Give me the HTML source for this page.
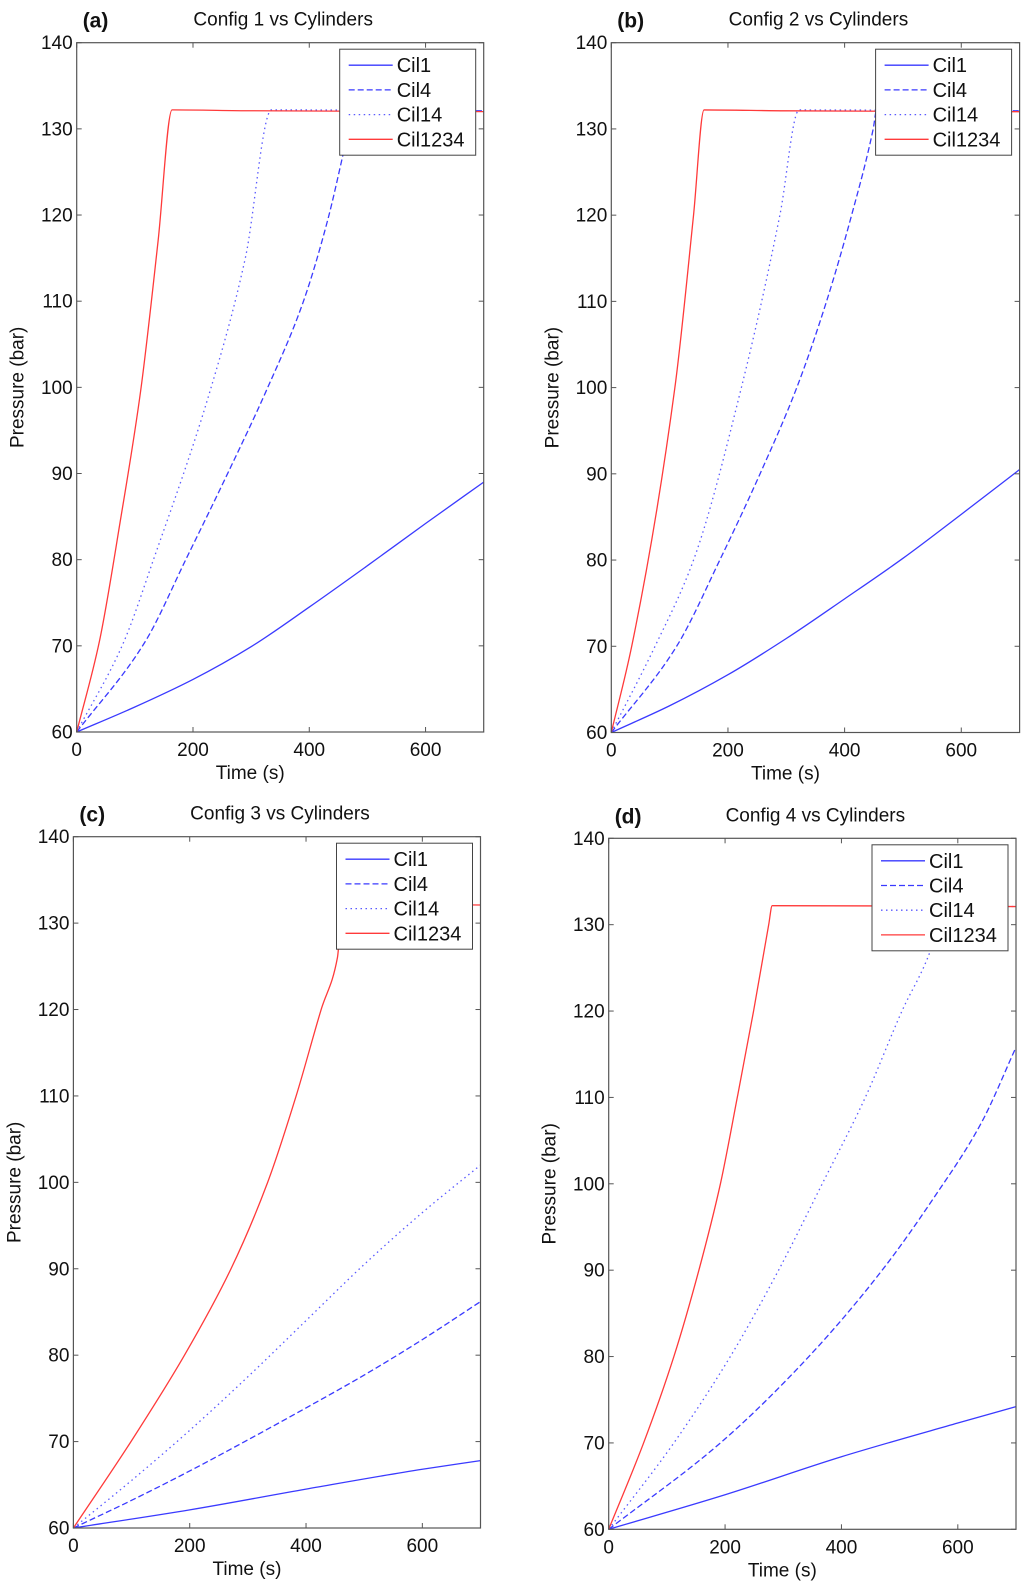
<!DOCTYPE html>
<html><head><meta charset="utf-8"><style>
html,body{margin:0;padding:0;background:#fff;}
svg{display:block;font-family:"Liberation Sans",Arial,sans-serif;}
</style></head>
<body>
<svg id="fig" width="1024" height="1590" viewBox="0 0 1024 1590" xmlns="http://www.w3.org/2000/svg"></svg>
<script>
// ---- data ----
const yTicks = [60,70,80,90,100,110,120,130,140];
const xTicks = [0,200,400,600];
const seriesNames = ["Cil1","Cil4","Cil14","Cil1234"];
const panelTitles = ["Config 1 vs Cylinders","Config 2 vs Cylinders","Config 3 vs Cylinders","Config 4 vs Cylinders"];
const panelLetters = ["(a)","(b)","(c)","(d)"];

// Panel a
const aCil1T = [0,100,200,300,400,500,600,700];
const aCil1V = [60,62.9,66.1,69.9,74.5,79.3,84.2,89.0];
const aCil4T = [0,117,189,261,326,389,432,458,475,700];
const aCil4V = [60,70.4,80.2,90.2,99.6,109.8,119.5,127.0,132.2,132.1];
const aCil14T = [0,80,132,229,290,335,700];
const aCil14V = [60,70.3,80.0,99.5,115,132.2,132.1];
const aCil1234T = [0,39,75,110,140,164,300,700];
const aCil1234V = [60,70.5,84.5,99.6,117,132.2,132.1,132.0];
// Panel b
const bCil1T = [0,100,200,300,400,500,600,700];
const bCil1V = [60,63.1,66.7,70.9,75.5,80.2,85.3,90.5];
const bCil4T = [0,112,186,255,318,369,412,449,455,700];
const bCil4V = [60,70,80,90,100,110,120,130,132.2,132.1];
const bCil14T = [0,75,141,223,289,322,700];
const bCil14V = [60,70,80,100,120,132.2,132.1];
const bCil1234T = [0,35,109,141,159,300,700];
const bCil1234V = [60,70,100,120,132.2,132.1,132.0];
// Panel c
const cCil1T = [0,200,400,600,700];
const cCil1V = [60,62.1,64.5,66.8,67.8];
const cCil4T = [0,100,200,300,400,500,600,700];
const cCil4V = [60,63.2,66.6,70.2,73.9,77.7,81.8,86.2];
const cCil14T = [0,100,200,300,400,500,600,700];
const cCil14V = [60,65.5,71.3,77.5,84,90.5,96.5,102];
const cCil1234T = [0,99,191,271,334,383,426,454,463,700];
const cCil1234V = [60,70,80,90,100,110,120,126,132.2,132.1];
// Panel d
const dCil1T = [0,200,400,600,700];
const dCil1V = [60,64,68.4,72.3,74.2];
const dCil4T = [0,192,344,470,560,640,700];
const dCil4V = [60,70,80,90,98.5,107,115.8];
const dCil14T = [0,112,209,292,367,441,504,553,575,700];
const dCil14V = [60,70,80,90,100,110,120,127,132.2,132.1];
const dCil1234T = [0,60,112,155,192,221,249,275,281,700];
const dCil1234V = [60,70,80,90,100,110,120,130,132.2,132.1];

const panelData = [
  [[aCil1T,aCil1V],[aCil4T,aCil4V],[aCil14T,aCil14V],[aCil1234T,aCil1234V]],
  [[bCil1T,bCil1V],[bCil4T,bCil4V],[bCil14T,bCil14V],[bCil1234T,bCil1234V]],
  [[cCil1T,cCil1V],[cCil4T,cCil4V],[cCil14T,cCil14V],[cCil1234T,cCil1234V]],
  [[dCil1T,dCil1V],[dCil4T,dCil4V],[dCil14T,dCil14V],[dCil1234T,dCil1234V]]
];

// ---- layout ----
const boxes = [
  {L:76.7,R:483.7,T:42.7,B:732},
  {L:611.3,R:1019.6,T:42.7,B:732.5},
  {L:73.4,R:480.5,T:836.7,B:1528},
  {L:608.7,R:1016,T:838.3,B:1529.3}
];
const styles = [
  {stroke:"#3a3aff",dash:""},
  {stroke:"#3a3aff",dash:"6,3"},
  {stroke:"#5a5aff",dash:"1.5,3.5"},
  {stroke:"#ff3a3a",dash:""}
];
const NS="http://www.w3.org/2000/svg";
const svg=document.getElementById('fig');
function mk(tag,attrs,parent){const e=document.createElementNS(NS,tag);for(const k in attrs)e.setAttribute(k,attrs[k]);(parent||svg).appendChild(e);return e;}

// monotone cubic path (Fritsch-Carlson)
function monoPath(xs,ys){
  const n=xs.length;
  if(n<2)return '';
  const d=[],m=new Array(n);
  for(let i=0;i<n-1;i++)d.push((ys[i+1]-ys[i])/(xs[i+1]-xs[i]));
  m[0]=d[0];m[n-1]=d[n-2];
  for(let i=1;i<n-1;i++){
    if(d[i-1]*d[i]<=0)m[i]=0;
    else{const w1=2*(xs[i+1]-xs[i])+(xs[i]-xs[i-1]),w2=(xs[i+1]-xs[i])+2*(xs[i]-xs[i-1]);m[i]=(w1+w2)/(w1/d[i-1]+w2/d[i]);}
  }
  let p='M'+xs[0].toFixed(2)+','+ys[0].toFixed(2);
  for(let i=0;i<n-1;i++){
    const h=xs[i+1]-xs[i];
    p+=' C'+(xs[i]+h/3).toFixed(2)+','+(ys[i]+m[i]*h/3).toFixed(2)+' '+(xs[i+1]-h/3).toFixed(2)+','+(ys[i+1]-m[i+1]*h/3).toFixed(2)+' '+xs[i+1].toFixed(2)+','+ys[i+1].toFixed(2);
  }
  return p;
}

boxes.forEach((b,pi)=>{
  const xS=t=>b.L+(t/700)*(b.R-b.L);
  const yS=v=>b.B-((v-60)/80)*(b.B-b.T);
  const g=mk('g',{});
  
  
  panelData[pi].forEach((s,si)=>{
    const xs=s[0].map(xS), ys=s[1].map(yS);
    const st=styles[si];
    const p=mk('path',{d:monoPath(xs,ys),fill:'none',stroke:st.stroke,'stroke-width':1.3,'stroke-dasharray':st.dash},g);
    
    
  });
  const fr=mk('rect',{x:b.L,y:b.T,width:b.R-b.L,height:b.B-b.T,fill:'none',stroke:'#555','stroke-width':1.2},g);
  
  
  yTicks.forEach(v=>{
    const y=yS(v);
    mk('line',{x1:b.L,x2:b.L+5,y1:y,y2:y,stroke:'#555','stroke-width':1},g);
    mk('line',{x1:b.R,x2:b.R-5,y1:y,y2:y,stroke:'#555','stroke-width':1},g);
    const t=mk('text',{x:b.L-4,y:y+6.5,'text-anchor':'end','font-size':19,fill:'#111'},g);
    t.textContent=v;
    
    
  });
  xTicks.forEach(v=>{
    const x=xS(v);
    mk('line',{x1:x,x2:x,y1:b.B,y2:b.B-5,stroke:'#555','stroke-width':1},g);
    mk('line',{x1:x,x2:x,y1:b.T,y2:b.T+5,stroke:'#555','stroke-width':1},g);
    const t=mk('text',{x:x,y:b.B+24,'text-anchor':'middle','font-size':19,fill:'#111'},g);
    t.textContent=v;
    
    
  });
  const xt=mk('text',{x:(b.L+b.R)/2-30,y:b.B+47,'text-anchor':'middle','font-size':19,fill:'#111'},g);
  xt.textContent='Time (s)';
  
  
  const yc=(b.T+b.B)/2;
  const yt=mk('text',{x:b.L-53,y:yc,'text-anchor':'middle','font-size':19,fill:'#111',transform:'rotate(-90 '+(b.L-53)+' '+yc+')'},g);
  yt.textContent='Pressure (bar)';
  
  
  const tt=mk('text',{x:(b.L+b.R)/2+3,y:b.T-17,'text-anchor':'middle','font-size':19,fill:'#111'},g);
  tt.textContent=panelTitles[pi];
  
  
  const lt=mk('text',{x:b.L+6,y:b.T-15,'font-size':21,'font-weight':'bold',fill:'#111'},g);
  lt.textContent=panelLetters[pi];
  
  
  const lx=b.R-144, ly=b.T+6.5;
  const lg=mk('g',{},g);
  
  
  mk('rect',{x:lx,y:ly,width:136,height:106,fill:'#fff',stroke:'#444','stroke-width':1},lg);
  seriesNames.forEach((n,si)=>{
    const ry=ly+16+si*24.7;
    const st=styles[si];
    mk('line',{x1:lx+9,x2:lx+53,y1:ry,y2:ry,stroke:st.stroke,'stroke-width':1.3,'stroke-dasharray':st.dash},lg);
    const tx=mk('text',{x:lx+57,y:ry+7,'font-size':20,fill:'#111'},lg);
    tx.textContent=n;
    
    
  });
});
</script>
</body></html>
